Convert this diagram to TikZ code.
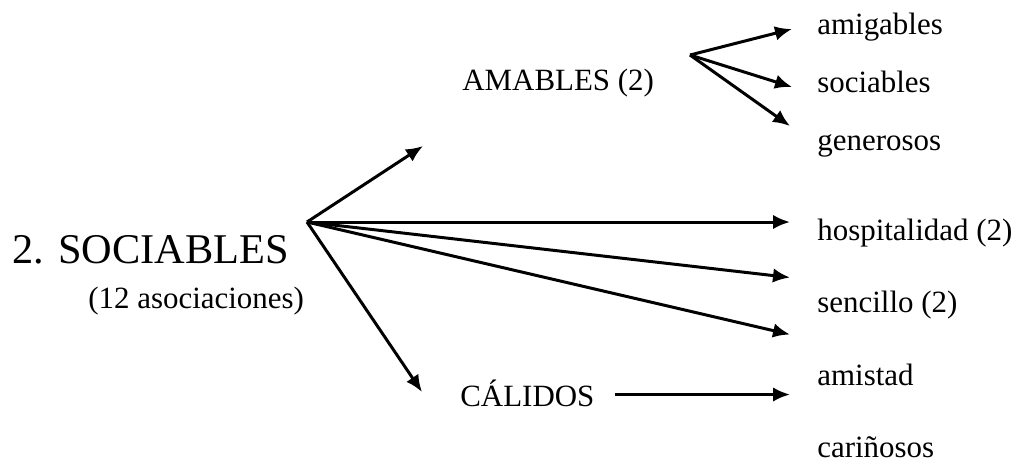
\documentclass[tikz,border=0pt]{standalone}
\usepackage{fontspec}
\setmainfont{Liberation Serif}
\usetikzlibrary{arrows.meta}

\begin{document}
\begin{tikzpicture}[
          word/.style={anchor=base west, inner sep=0pt, font=\fontsize{17.6}{20}\selectfont},
          title/.style={anchor=base west, inner sep=0pt, font=\fontsize{24.1}{28}\selectfont},
          link/.style={-{Latex[length=0.34cm, width=0.29cm]}, line width=1.7pt}
        ]
          \useasboundingbox (0,0) rectangle (20.42,9.34);

          \node[title] (sociables) at (0.24, 4.08) {2. SOCIABLES};
          \node[word] (count) at (1.76, 3.18) {(12 asociaciones)};
          \node[word] (amables) at (9.24, 7.54) {AMABLES (2)};
          \node[word] (calidos) at (9.20, 1.22) {CÁLIDOS};

          \node[word] (amigables) at (16.34, 8.66) {amigables};
          \node[word] (sociables2) at (16.34, 7.50) {sociables};
          \node[word] (generosos) at (16.34, 6.34) {generosos};
          \node[word] (hospitalidad) at (16.34, 4.54) {hospitalidad (2)};
          \node[word] (sencillo) at (16.34, 3.10) {sencillo (2)};
          \node[word] (amistad) at (16.34, 1.64) {amistad};
          \node[word] (carinosos) at (16.34, 0.20) {cariñosos};

          \coordinate (hub) at (6.14, 4.90);
          \coordinate (hubA) at (13.80, 8.24);
          \coordinate (startC) at (12.30, 1.45);

          \coordinate (tUp) at (8.46, 6.42);
          \coordinate (tDown) at (8.44, 1.50);
          \coordinate (tHosp) at (15.80, 4.90);
          \coordinate (tMid) at (15.80, 3.79);
          \coordinate (tLow) at (15.80, 2.65);
          \coordinate (tAmig) at (15.84, 8.76);
          \coordinate (tSoc) at (15.84, 7.60);
          \coordinate (tGen) at (15.80, 6.82);
          \coordinate (tAmis) at (15.80, 1.45);

          \draw[link] (hub) -- (tUp);
          \draw[link] (hub) -- (tHosp);
          \draw[link] (hub) -- (tMid);
          \draw[link] (hub) -- (tLow);
          \draw[link] (hub) -- (tDown);

          \draw[link] (hubA) -- (tAmig);
          \draw[link] (hubA) -- (tSoc);
          \draw[link] (hubA) -- (tGen);

          \draw[link] (startC) -- (tAmis);
        \end{tikzpicture}
\end{document}
